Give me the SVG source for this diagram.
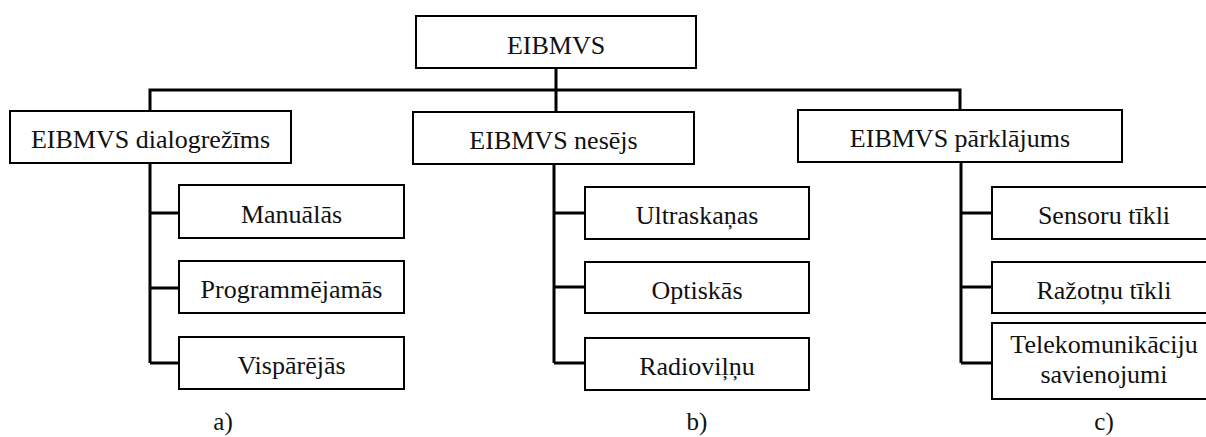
<svg xmlns="http://www.w3.org/2000/svg" width="1206" height="437" viewBox="0 0 1206 437" font-family="'Liberation Serif', 'DejaVu Serif', serif">
<style>
rect{fill:#fff;stroke:#000;stroke-width:2}
text{font-family:'Liberation Serif','DejaVu Serif',serif;font-size:26px;fill:#111;text-anchor:middle}
.lbl{font-size:25px}
#connectors path{fill:none;stroke:#000;stroke-width:3}
</style>
<rect x="0" y="0" width="1206" height="437" style="fill:#fff;stroke:none"/>
<g id="connectors">
<path d="M556 68V112M150 111V90H960V110"/>
<path d="M150 163V363M150 213H179M150 288H179M150 363H179"/>
<path d="M554 164V363M554 213H585M554 287H585M554 363H585"/>
<path d="M961 162V363M961 213H992M961 287H992M961 363H992"/>
</g>
<g id="root"><rect x="416" y="16" width="280" height="52"/><text x="556" y="54">EIBMVS</text></g>
<g id="dialog"><rect x="10" y="111" width="281" height="52"/><text x="150.5" y="148">EIBMVS dialogrežīms</text></g>
<g id="nesejs"><rect x="413" y="112" width="281" height="52"/><text x="553.5" y="149">EIBMVS nesējs</text></g>
<g id="parklajums"><rect x="798" y="110" width="324" height="52"/><text x="960" y="147">EIBMVS pārklājums</text></g>
<g id="manualas"><rect x="179" y="185" width="225" height="53"/><text x="291.5" y="223">Manuālās</text></g>
<g id="programmejamas"><rect x="179" y="261" width="225" height="52"/><text x="291.5" y="298">Programmējamās</text></g>
<g id="visparejas"><rect x="179" y="337" width="225" height="52"/><text x="291.5" y="374">Vispārējās</text></g>
<g id="ultraskanas"><rect x="585" y="187" width="224" height="52"/><text x="697" y="224">Ultraskaņas</text></g>
<g id="optiskas"><rect x="585" y="262" width="224" height="51"/><text x="697" y="299">Optiskās</text></g>
<g id="radioviljnu"><rect x="585" y="338" width="224" height="52"/><text x="697" y="375">Radioviļņu</text></g>
<g id="sensoru"><rect x="992" y="187" width="224" height="52"/><text x="1104" y="224">Sensoru tīkli</text></g>
<g id="razotnu"><rect x="992" y="262" width="224" height="51"/><text x="1104" y="299">Ražotņu tīkli</text></g>
<g id="telekom"><rect x="992" y="323" width="224" height="76"/><text x="1104" y="353">Telekomunikāciju</text><text x="1104" y="383">savienojumi</text></g>
<g id="labels"><text class="lbl" x="223" y="430">a)</text><text class="lbl" x="697" y="430">b)</text><text class="lbl" x="1104" y="430">c)</text></g>
</svg>
